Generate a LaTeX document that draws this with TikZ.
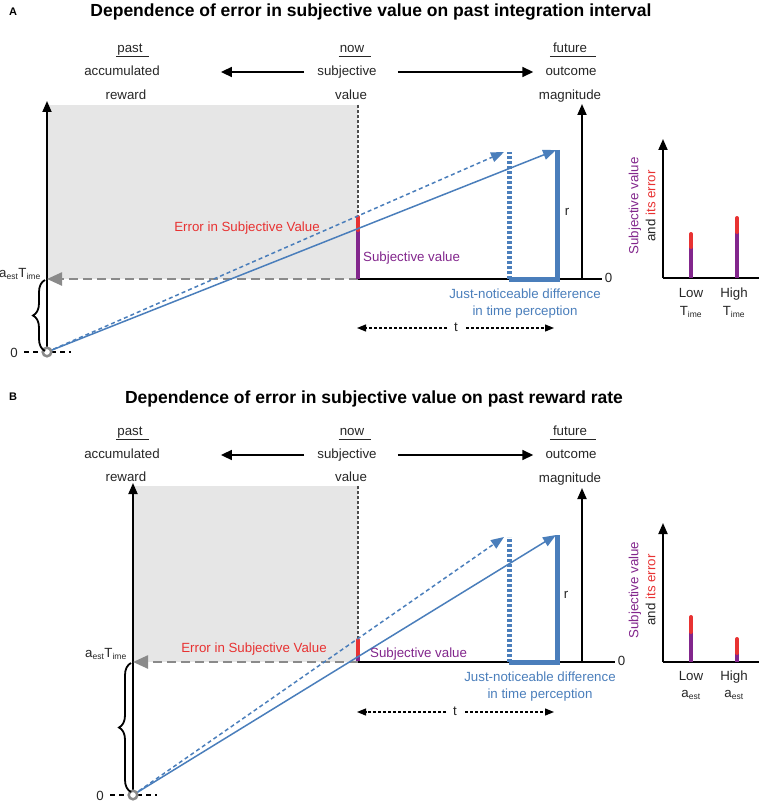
\documentclass[tikz,border=0pt]{standalone}
\usepackage{fontspec}
\setmainfont{Liberation Sans}
\usetikzlibrary{arrows.meta,decorations.pathreplacing}
\definecolor{jndblue}{RGB}{74,126,187}
\definecolor{errred}{RGB}{232,50,50}
\definecolor{svpurple}{RGB}{130,38,140}
\definecolor{boxgray}{RGB}{230,230,230}
\definecolor{arrgray}{RGB}{138,138,138}
\newcommand{\lowsub}[1]{\textsubscript{\fontsize{8.5}{9}\selectfont#1}}

\begin{document}
\begin{tikzpicture}[x=1pt,y=-1pt,
  lbl/.style={font=\fontsize{13.3}{17}\selectfont,text=black!85,inner sep=1pt,text height=9.6pt,text depth=2.8pt},
  jndlbl/.style={font=\fontsize{13.3}{17}\selectfont,text=jndblue,inner sep=1pt,align=center},
  ttl/.style={font=\fontsize{17.5}{20}\selectfont\bfseries,inner sep=0pt},
  panel/.style={font=\fontsize{11}{12}\selectfont\bfseries,inner sep=0pt},
  uline/.style={line width=1pt,black!85},
  timearrow/.style={line width=1.6pt,-{Triangle[length=11pt,width=10pt]}},
  axis/.style={line width=1.8pt,-{Triangle[length=11pt,width=9pt]}},
  baseaxis/.style={line width=1.8pt},
  nowline/.style={line width=1.1pt,black!70,dash pattern=on 3pt off 2pt},
  grayarrow/.style={line width=2.4pt,arrgray,dash pattern=on 9pt off 5pt,-{Triangle[length=15pt,width=13pt]}},
  svbar/.style={line width=4pt,svpurple},
  errbar/.style={line width=4pt,errred,line cap=round},
  blueline/.style={line width=1.5pt,jndblue,-{Triangle[length=13pt,width=10pt]}},
  bluedash/.style={line width=1.5pt,jndblue,dash pattern=on 4pt off 3pt,-{Triangle[length=13pt,width=10pt]}},
  jndthick/.style={line width=5pt,jndblue},
  jnddot/.style={line width=5pt,jndblue,dash pattern=on 3pt off 2pt},
  tdash/.style={line width=1.2pt,dash pattern=on 3pt off 2pt,-{Triangle[length=9pt,width=7pt]}},
  origin/.style={line width=2.5pt,arrgray},
  zerodash/.style={line width=1.4pt,dash pattern=on 5pt off 4pt},
  brace/.style={line width=1.8pt,decorate,decoration={brace,amplitude=12pt}}]
\useasboundingbox (0,0) rectangle (759,805);

\node[panel] (labA) at (13,12) {A};
\node[ttl] (titleA) at (371,12) {Dependence of error in subjective value on past integration interval};
\node[lbl] (pastA) at (130,49) {past};
\node[lbl] (accA) at (122,72) {accumulated};
\node[lbl] (rewA) at (126,96) {reward};
\node[lbl] (nowA) at (352,49) {now};
\node[lbl] (subjA) at (347,72) {subjective};
\node[lbl] (valA) at (351,96) {value};
\node[lbl] (futA) at (570,49) {future};
\node[lbl] (outA) at (571,72) {outcome};
\node[lbl] (magA) at (570,96) {magnitude};
\draw[uline] (pastA.south west) -- ([xshift=5pt]pastA.south east);
\draw[uline] (nowA.south west) -- ([xshift=6pt]nowA.south east);
\draw[uline] ([xshift=-2pt]futA.south west) -- ([xshift=8pt]futA.south east);
\draw[timearrow] ([xshift=-12pt]subjA.west) -- ([xshift=60pt]accA.east);
\draw[timearrow] ([xshift=20pt]subjA.east) -- ([xshift=-11pt]outA.west);

\coordinate (OA) at (47,352);
\coordinate (NA) at (358,279);
\coordinate (FA) at (582,279);
\coordinate (SA) at (358,230);
\coordinate (EA) at (358,217);
\coordinate (TA) at (557,150);
\coordinate (DA) at (509,152);
\fill[boxgray] (47,105) rectangle (NA);
\draw[nowline] (358,105) -- (EA);
\draw[axis] (OA) -- (47,101);
\draw[axis] (FA) -- (582,104);
\draw[baseaxis] (NA) -- (602,279) node[lbl,right,inner sep=2pt] (zeroA) {0};
\draw[grayarrow] (NA) -- (OA|-NA);
\draw[svbar] (NA) -- (SA);
\draw[errbar] (SA) -- (EA);
\draw[jndthick] (TA) -- (TA|-NA) -- (DA|-NA);
\draw[jnddot] (DA|-NA) -- (DA);
\draw[bluedash] (OA) -- ([xshift=-5pt]DA);
\draw[blueline] (OA) -- ([xshift=-1pt]TA);
\draw[zerodash] (24,352) -- (71,352);
\draw[origin,fill=white] (OA) circle (4.3);
\node[lbl] (zeroOA) at (14,354) {0};
\draw[brace] (45,351) -- (45,280);
\node[lbl,anchor=east,inner sep=0pt] (aTA) at (41,274) {a\lowsub{est}T\lowsub{ime}};
\node[lbl,text=errred] (errA) at (247,228) {Error in Subjective Value};
\node[lbl,text=svpurple,anchor=west] (svA) at (362,258) {Subjective value};
\node[lbl] (rA) at (567,212) {r};
\node[jndlbl] (jndA) at (525,304) {Just-noticeable difference\\in time perception};
\node[lbl] (tA) at (456,328) {t};
\coordinate (tAl) at (357,328);
\coordinate (tAr) at (554,328);
\draw[tdash] ([xshift=-9pt]tA.center) -- (tAl);
\draw[tdash] ([xshift=10pt]tA.center) -- (tAr);

\coordinate (cA) at (663,278);
\draw[axis] (cA) -- (663,139);
\draw[baseaxis] (cA) -- (759,278);
\draw[svbar] (691,278) -- (691,247);
\draw[errbar] (691,247) -- (691,234);
\draw[svbar] (737,278) -- (737,232);
\draw[errbar] (737,232) -- (737,218);
\node[lbl] (lowA) at (691,294) {Low};
\node[lbl] (lowTA) at (691,312) {T\lowsub{ime}};
\node[lbl] (highA) at (734,294) {High};
\node[lbl] (highTA) at (734,312) {T\lowsub{ime}};
\node[lbl,text=svpurple,rotate=90] (ysvA) at (635,206) {Subjective value};
\node[lbl,rotate=90] (yerrA) at (652,206) {and \textcolor{errred}{its error}};

\node[panel] (labB) at (13,397) {B};
\node[ttl] (titleB) at (374,399) {Dependence of error in subjective value on past reward rate};
\node[lbl] (pastB) at (130,432) {past};
\node[lbl] (accB) at (122,455) {accumulated};
\node[lbl] (rewB) at (126,478) {reward};
\node[lbl] (nowB) at (352,432) {now};
\node[lbl] (subjB) at (347,455) {subjective};
\node[lbl] (valB) at (351,478) {value};
\node[lbl] (futB) at (570,432) {future};
\node[lbl] (outB) at (571,455) {outcome};
\node[lbl] (magB) at (570,479) {magnitude};
\draw[uline] (pastB.south west) -- ([xshift=5pt]pastB.south east);
\draw[uline] (nowB.south west) -- ([xshift=6pt]nowB.south east);
\draw[uline] ([xshift=-2pt]futB.south west) -- ([xshift=8pt]futB.south east);
\draw[timearrow] ([xshift=-12pt]subjB.west) -- ([xshift=60pt]accB.east);
\draw[timearrow] ([xshift=20pt]subjB.east) -- ([xshift=-11pt]outB.west);

\coordinate (OB) at (133,795);
\coordinate (NB) at (358,662);
\coordinate (FB) at (582,662);
\coordinate (SB) at (358,655);
\coordinate (EB) at (358,640);
\coordinate (TB) at (557,535);
\coordinate (DB) at (509,537);
\fill[boxgray] (133,486) rectangle (NB);
\draw[nowline] (358,486) -- (EB);
\draw[axis] (OB) -- (133,483);
\draw[axis] (FB) -- (582,488);
\draw[baseaxis] (NB) -- (615,662) node[lbl,right,inner sep=2pt] (zeroB) {0};
\draw[grayarrow] (NB) -- (OB|-NB);
\draw[svbar] ([yshift=1pt]NB) -- (SB);
\draw[errbar] (SB) -- (EB);
\draw[jndthick] (TB) -- (TB|-NB) -- (DB|-NB);
\draw[jnddot] (DB|-NB) -- (DB);
\draw[bluedash] (OB) -- ([xshift=-5pt]DB);
\draw[blueline] (OB) -- ([xshift=-1pt]TB);
\draw[zerodash] (110,795) -- (157,795);
\draw[origin,fill=white] (OB) circle (4.3);
\node[lbl] (zeroOB) at (100,797) {0};
\draw[brace] (131,792) -- (131,663);
\node[lbl,anchor=east,inner sep=0pt] (aTB) at (127,654) {a\lowsub{est}T\lowsub{ime}};
\node[lbl,text=errred] (errB) at (254,649) {Error in Subjective Value};
\node[lbl,text=svpurple,anchor=west] (svB) at (369,654) {Subjective value};
\node[lbl] (rB) at (566,595) {r};
\node[jndlbl] (jndB) at (540,687) {Just-noticeable difference\\in time perception};
\node[lbl] (tB) at (455,712) {t};
\coordinate (tBl) at (357,712);
\coordinate (tBr) at (554,712);
\draw[tdash] ([xshift=-9pt]tB.center) -- (tBl);
\draw[tdash] ([xshift=10pt]tB.center) -- (tBr);

\coordinate (cB) at (663,662);
\draw[axis] (cB) -- (663,523);
\draw[baseaxis] (cB) -- (759,662);
\draw[svbar] (691,662) -- (691,632);
\draw[errbar] (691,632) -- (691,617);
\draw[svbar] (737,662) -- (737,653);
\draw[errbar] (737,653) -- (737,639);
\node[lbl] (lowB) at (691,677) {Low};
\node[lbl] (lowaB) at (691,694) {a\lowsub{est}};
\node[lbl] (highB) at (734,677) {High};
\node[lbl] (highaB) at (734,694) {a\lowsub{est}};
\node[lbl,text=svpurple,rotate=90] (ysvB) at (635,590) {Subjective value};
\node[lbl,rotate=90] (yerrB) at (652,590) {and \textcolor{errred}{its error}};
\end{tikzpicture}
\end{document}
